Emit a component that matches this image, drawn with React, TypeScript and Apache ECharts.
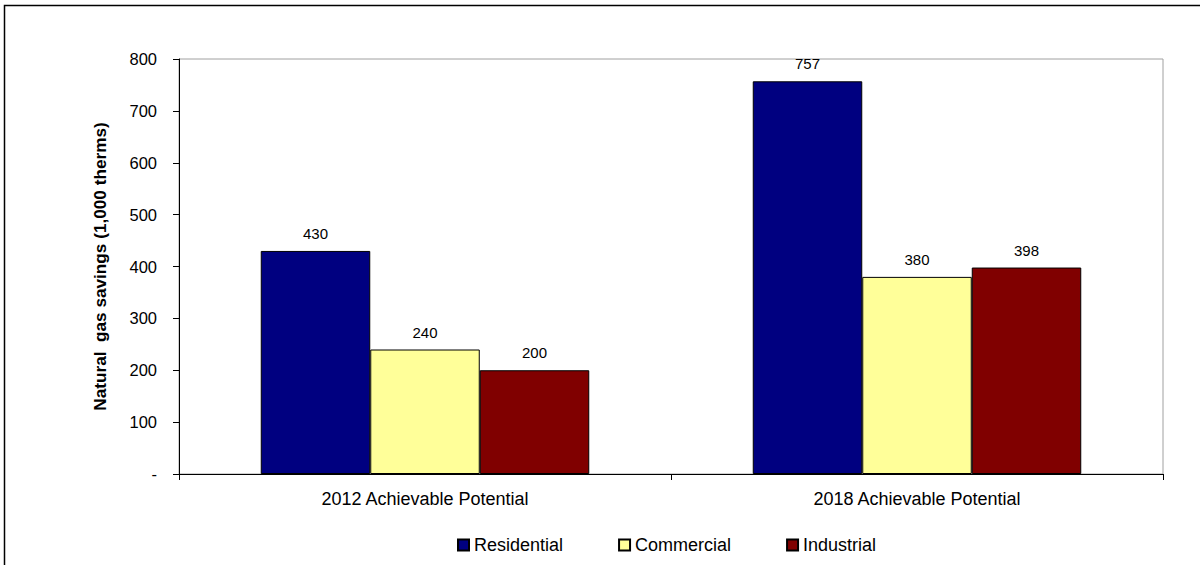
import React, { useEffect, useRef } from "react";
import * as echarts from "echarts";

const categories = ["2012 Achievable Potential", "2018 Achievable Potential"];
const residential = [430, 757];
const commercial = [240, 380];
const industrial = [200, 398];
const seriesNames = ["Residential", "Commercial", "Industrial"];
const yTicks = [0, 100, 200, 300, 400, 500, 600, 700, 800];

const FONT = "Liberation Sans, Arial, sans-serif";

export default function App() {
  const ref = useRef<HTMLDivElement>(null);
  useEffect(() => {
    if (!ref.current) return;
    const chart = echarts.init(ref.current, undefined, { renderer: "svg" });
    const colors = ["#000080", "#FFFF99", "#800000"];
    const data = [residential, commercial, industrial];
    chart.setOption({
      animation: false,
      textStyle: { fontFamily: FONT, color: "#000" },
      graphic: [
        {
          type: "rect",
          shape: { x: 4.5, y: 5.5, width: 1300, height: 700 },
          style: { fill: "none", stroke: "#000", lineWidth: 1.5 },
          silent: true,
        },
      ],
      grid: {
        left: 179,
        top: 59,
        width: 984,
        height: 415,
        show: true,
        borderColor: "#a0a0a0",
        borderWidth: 1,
        backgroundColor: "transparent",
      },
      legend: {
        data: seriesNames,
        top: 531,
        left: 452,
        itemWidth: 11,
        itemHeight: 11,
        itemGap: 55,
        icon: "rect",
        textStyle: { fontFamily: FONT, fontSize: 18, color: "#000" },
      },
      xAxis: {
        type: "category",
        data: categories,
        axisLine: { lineStyle: { color: "#000", width: 1 } },
        axisTick: { show: true, length: 6, lineStyle: { color: "#000" } },
        axisLabel: { fontFamily: FONT, fontSize: 18, color: "#000", margin: 16 },
      },
      yAxis: {
        type: "value",
        min: yTicks[0],
        max: yTicks[yTicks.length - 1],
        interval: 100,
        name: "Natural  gas savings (1,000 therms)",
        nameLocation: "middle",
        nameGap: 71,
        nameTextStyle: { fontFamily: FONT, fontSize: 17.2, fontWeight: "bold", color: "#000" },
        axisLine: { show: true, lineStyle: { color: "#000", width: 1 } },
        axisTick: { show: true, length: 6, lineStyle: { color: "#000" } },
        splitLine: { show: false },
        axisLabel: {
          fontFamily: FONT,
          fontSize: 16.5,
          color: "#000",
          margin: 22,
          formatter: (v: number) => (v === 0 ? "-" : String(v)),
        },
      },
      series: seriesNames.map((name, i) => ({
        name,
        type: "bar",
        data: data[i],
        barWidth: 109.5,
        barGap: "0%",
        itemStyle: { color: colors[i], borderColor: "#000", borderWidth: 1 },
        label: {
          show: true,
          position: "top",
          distance: 10,
          fontFamily: FONT,
          fontSize: 15,
          color: "#000",
        },
      })),
    });
    return () => chart.dispose();
  }, []);
  return (
    <div
      ref={ref}
      style={{ position: "absolute", left: 0, top: 0, width: 1200, height: 565 }}
    />
  );
}
